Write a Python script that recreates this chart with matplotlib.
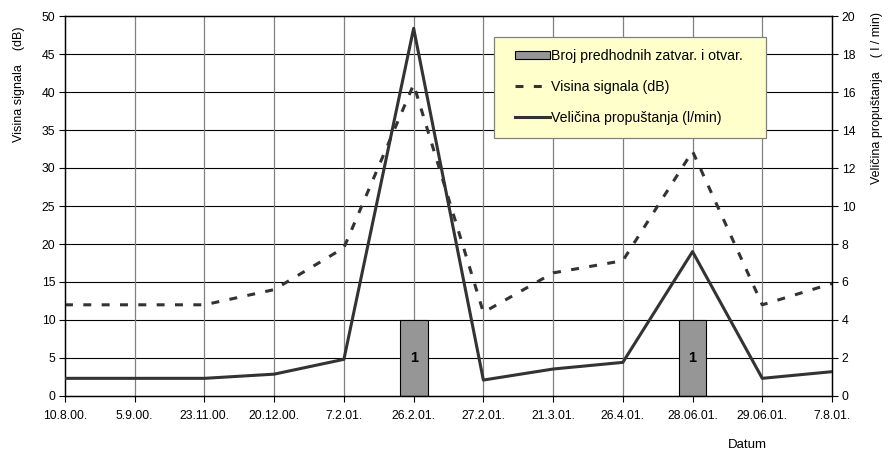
import matplotlib
matplotlib.use("Agg")
from matplotlib import pyplot as plt
from matplotlib.patches import Patch, Rectangle
from matplotlib.lines import Line2D
import numpy as np

plt.rcParams['font.family'] = ['Liberation Sans', 'DejaVu Sans']

datumi = ["10.8.00.", "5.9.00.", "23.11.00.", "20.12.00.", "7.2.01.", "26.2.01.",
          "27.2.01.", "21.3.01.", "26.4.01.", "28.06.01.", "29.06.01.", "7.8.01."]
visina_signala = [12, 12, 12, 14, 19.5, 41, 11, 16.2, 17.8, 32.2, 12, 14.8]    # dB, left axis
propustanje = [0.93, 0.93, 0.93, 1.15, 1.93, 19.35, 0.84, 1.42, 1.77, 7.6, 0.93, 1.28]  # l/min, right axis
broj_zatvar = [0, 0, 0, 0, 0, 1, 0, 0, 0, 1, 0, 0]
stupac_visina = 10  # bars are drawn up to 10 on the dB axis

x = np.arange(len(datumi))
line_col = '#333333'
W, H = 888, 453

fig = plt.figure(figsize=(8.88, 4.53), dpi=100)
ax = fig.add_axes([65/W, 57/H, 767/W, 380/H])
ax2 = ax.twinx()

# grid
for v in np.arange(5, 50, 5):
    ax.axhline(v, color='black', lw=0.8, zorder=0)
for xi in x[1:-1]:
    ax.axvline(xi, color='#808080', lw=0.9, zorder=0)

# bars
idx = [i for i, b in enumerate(broj_zatvar) if b > 0]
ax.bar(x[idx], [stupac_visina] * len(idx), width=0.4, color='#969696',
       edgecolor='black', linewidth=0.8, zorder=2)
for i in idx:
    ax.text(x[i], stupac_visina / 2, str(broj_zatvar[i]), ha='center', va='center',
            fontsize=10.5, fontweight='bold', zorder=3)

ax.plot(x, visina_signala, color=line_col, lw=2.2, dashes=(2.6, 3.4), zorder=4)
ax2.plot(x, propustanje, color=line_col, lw=2.2, zorder=4)

ax.set_xlim(0, 11)
ax.set_ylim(0, 50)
ax2.set_ylim(0, 20)
ax.set_yticks(np.arange(0, 51, 5))
ax2.set_yticks(np.arange(0, 21, 2))
ax.set_xticks(x)
ax.set_xticklabels(datumi)

for a in (ax, ax2):
    a.tick_params(labelsize=8.8, length=4, width=0.8, color='black', pad=3)
    for s in a.spines.values():
        s.set_color('black')
        s.set_linewidth(0.9)
ax.tick_params(axis='x', pad=6)

# axis titles sit at the top like in the original Excel chart
fig.text(19/W, 1 - 27/H, 'Visina signala    (dB)', fontsize=9, rotation=90, ha='center', va='top')
fig.text(877/W, 1 - 12/H, 'Veličina propuštanja    ( l / min)', fontsize=9, rotation=90,
         ha='center', va='top')
fig.text(747/W, 1 - 445/H, 'Datum', fontsize=9.5, ha='center', va='center')

# legend box
fig.patches.append(Rectangle((494/W, 1 - 138/H), (766 - 494)/W, (138 - 37)/H,
                             transform=fig.transFigure, facecolor='#FFFFCC',
                             edgecolor='#808080', linewidth=0.9, zorder=9))
handles = [Patch(facecolor='#969696', edgecolor='black', linewidth=0.8),
           Line2D([], [], color=line_col, lw=2.2, dashes=(2.6, 3.4)),
           Line2D([], [], color=line_col, lw=2.2)]
labels = ['Broj predhodnih zatvar. i otvar.', 'Visina signala (dB)', 'Veličina propuštanja (l/min)']
leg = fig.legend(handles, labels, loc='upper left', bbox_to_anchor=(515/W, 1 - 49/H),
                 fontsize=10.2, frameon=False, handlelength=2.5, handleheight=0.5,
                 handletextpad=0.05, labelspacing=1.2, borderpad=0, borderaxespad=0)
leg.set_zorder(10)

plt.savefig('out.png', dpi=100)
plt.close('all')
